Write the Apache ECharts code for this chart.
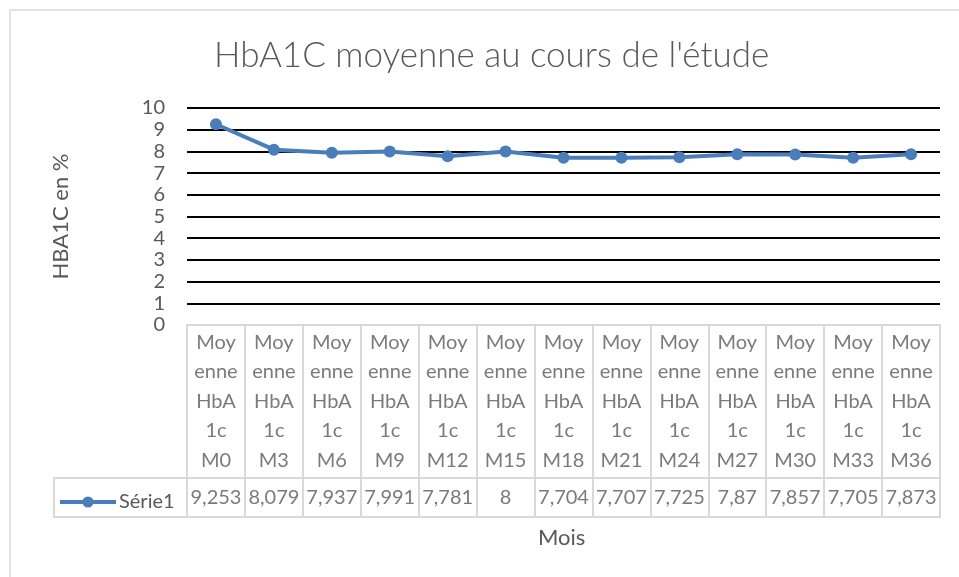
<!DOCTYPE html>
<html>
<head>
<meta charset="utf-8">
<script src="https://cdn.jsdelivr.net/npm/echarts@6/dist/echarts.min.js"></script>
<style>
  html, body { margin: 0; padding: 0; background: #fff; }
  #chart { width: 959px; height: 577px; }
</style>
</head>
<body>
<div id="chart"></div>
<script>
// data
const categories = ['M0', 'M3', 'M6', 'M9', 'M12', 'M15', 'M18', 'M21', 'M24', 'M27', 'M30', 'M33', 'M36'];
const headerLabels = categories.map(c => 'Moy\nenne\nHbA\n1c\n' + c);
const hba1c = [9.253, 8.079, 7.937, 7.991, 7.781, 8, 7.704, 7.707, 7.725, 7.87, 7.857, 7.705, 7.873];
const yTicks = [0, 10, 1];

const FONT = 'Lato';
const GREY = '#595959';
const BORDER = '#d9d9d9';
const BLUE = '#4a7ebb';

const chart = echarts.init(document.getElementById('chart'));

// split line at 0 is hidden behind the table border, others are black
const splitColors = [BORDER].concat(new Array(10).fill('#000000'));

const option = {
  animation: false,
  backgroundColor: '#fff',
  textStyle: { fontFamily: FONT, color: GREY },
  title: {
    text: "HbA1C moyenne au cours de l'étude",
    left: 209,
    top: 33,
    textStyle: { fontFamily: FONT, fontSize: 35, fontWeight: 300, color: GREY }
  },
  legend: {
    data: ['Série1'],
    left: 53,
    top: 487,
    itemWidth: 56,
    itemHeight: 14,
    itemGap: 3,
    lineStyle: { width: 4 },
    textStyle: { fontSize: 20, color: GREY, fontFamily: FONT, padding: [0, 0, 0, -2] }
  },
  graphic: [
    { type: 'rect', shape: { x: 10, y: 10, width: 960, height: 600 }, style: { fill: 'none', stroke: BORDER, lineWidth: 1.5 }, silent: true, z: -10 },
    { type: 'rect', shape: { x: 54, y: 478, width: 133, height: 39 }, style: { fill: 'none', stroke: BORDER, lineWidth: 2 }, silent: true, z: 10 },
    { type: 'text', left: 538, top: 527, style: { text: 'Mois', fontSize: 22, fontFamily: FONT, fill: GREY } }
  ],
  grid: [
    { left: 187, right: 19, top: 108, height: 217 },
    { left: 187, right: 19, top: 325, height: 153, show: true, borderColor: BORDER, borderWidth: 2, z: 5 },
    { left: 187, right: 19, top: 478, height: 39, show: true, borderColor: BORDER, borderWidth: 2, z: 5 }
  ],
  xAxis: [
    { gridIndex: 0, type: 'category', data: categories, boundaryGap: true,
      axisLine: { show: false }, axisTick: { show: false }, axisLabel: { show: false } },
    { gridIndex: 1, type: 'category', data: categories, boundaryGap: true,
      axisLine: { show: false }, axisTick: { show: false }, axisLabel: { show: false },
      splitLine: { show: true, lineStyle: { color: BORDER, width: 2 } } },
    { gridIndex: 2, type: 'category', data: categories, boundaryGap: true,
      axisLine: { show: false }, axisTick: { show: false }, axisLabel: { show: false },
      splitLine: { show: true, lineStyle: { color: BORDER, width: 2 } } }
  ],
  yAxis: [
    { gridIndex: 0, type: 'value', min: yTicks[0], max: yTicks[1], interval: yTicks[2],
      name: 'HBA1C en %', nameLocation: 'middle', nameGap: 115, nameRotate: 90,
      nameTextStyle: { fontSize: 22, color: GREY, fontFamily: FONT },
      axisLine: { show: false }, axisTick: { show: false },
      axisLabel: { fontSize: 20, color: GREY, margin: 22, fontFamily: FONT },
      splitLine: { lineStyle: { color: splitColors, width: 2 } } },
    { gridIndex: 1, type: 'value', min: 0, max: 1, show: false },
    { gridIndex: 2, type: 'value', min: 0, max: 1, show: false }
  ],
  series: [
    {
      name: 'Série1',
      type: 'line',
      xAxisIndex: 0, yAxisIndex: 0,
      data: hba1c,
      symbol: 'circle',
      symbolSize: 12,
      lineStyle: { color: BLUE, width: 4 },
      itemStyle: { color: BLUE },
      z: 3
    },
    {
      name: 'header',
      type: 'scatter',
      xAxisIndex: 1, yAxisIndex: 1,
      symbolSize: 0,
      data: categories.map((c, i) => [c, 0.5, headerLabels[i]]),
      label: {
        show: true, position: 'inside',
        formatter: p => p.data[2],
        fontSize: 20, lineHeight: 29.5, color: GREY, fontFamily: FONT
      },
      silent: true
    },
    {
      name: 'values',
      type: 'scatter',
      xAxisIndex: 2, yAxisIndex: 2,
      symbolSize: 0,
      data: categories.map((c, i) => [c, 0.5, hba1c[i]]),
      label: {
        show: true, position: 'inside',
        formatter: p => String(p.data[2]).replace('.', ','),
        fontSize: 20, color: GREY, fontFamily: FONT
      },
      silent: true
    }
  ]
};

chart.setOption(option);
</script>
</body>
</html>
